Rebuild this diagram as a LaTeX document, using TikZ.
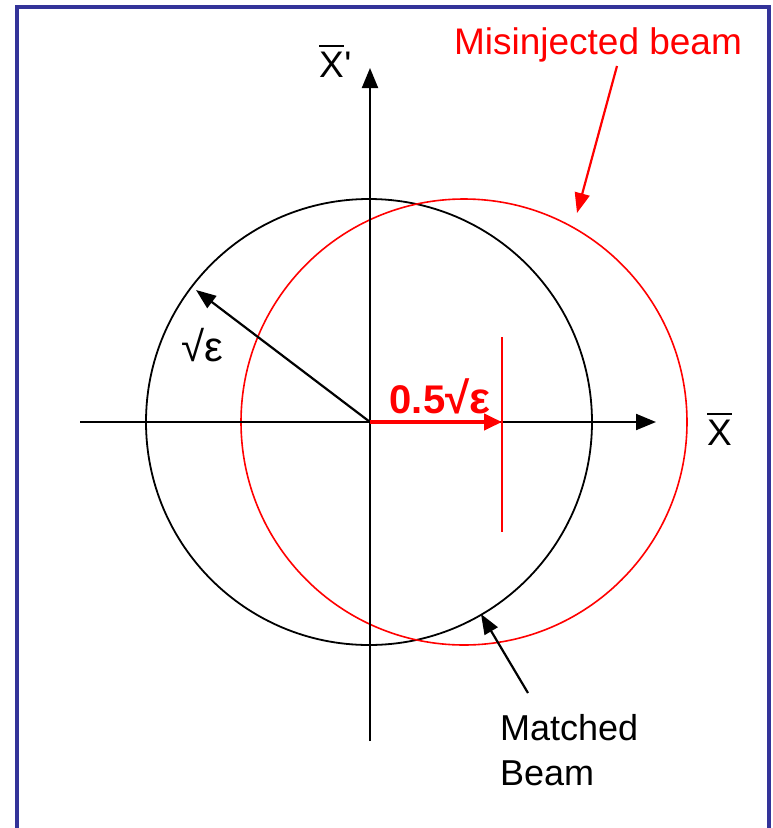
\documentclass[tikz,border=0pt]{standalone}
\usepackage{fontspec}
\setmainfont{Liberation Sans}
\usetikzlibrary{arrows.meta}
\definecolor{framecol}{RGB}{51,51,153}
\definecolor{redc}{RGB}{255,0,0}
\begin{document}
\begin{tikzpicture}[x=1pt,y=-1pt,
  axis/.style={line width=2pt,-{Triangle[length=20pt,width=16pt]}},
  lbl/.style={inner sep=0pt,font=\fontsize{37}{42}\selectfont},
  bar/.style={line width=2.2pt},
  pointer/.style={line width=2.2pt,-{Triangle[length=20pt,width=15pt]}}]
\useasboundingbox (0,0) rectangle (773,828);
% frame
\draw[framecol,line width=4pt] (17,828) -- (17,7) -- (769,7) -- (769,828);
% circles
\draw[line width=1.8pt] (369,422) circle[radius=223];
\draw[redc,line width=1.6pt] (464,422) circle[radius=223];
% axes
\coordinate (o) at (370,422);
\coordinate (xl) at (80,422);
\coordinate (xr) at (656,422);
\coordinate (yb) at (370,741);
\coordinate (yt) at (370,68);
\draw[axis] (xl) -- (xr);
\draw[axis] (yb) -- (yt);
\node[lbl,anchor=south west] (xlab) at (707,446) {X};
\draw[bar] ([yshift=6pt]xlab.north west) -- ([yshift=6pt]xlab.north east);
\node[lbl,anchor=south west] (ylab) at (319,78) {X};
\node[lbl,anchor=south west] (yprime) at (ylab.south east) {\textquotesingle};
\draw[bar] ([yshift=6pt]ylab.north west) -- ([yshift=6pt]ylab.north east);
% radius arrow
\coordinate (rt) at (196,290);
\draw[pointer] (o) -- (rt);
\node[lbl,font=\fontsize{42}{42}\selectfont] (eps) at (202,345) {√ε};
% offset
\coordinate (off) at (502,422);
\coordinate (vt) at (502,337);
\coordinate (vb) at (502,532);
\draw[redc,line width=1.6pt] (vt) -- (vb);
\draw[redc,line width=4pt,-{Triangle[length=18pt,width=16pt]}] (o) -- (off);
\node[lbl,redc,font=\fontsize{40}{40}\selectfont\bfseries] (half) at (440,396) {0.5{\fontsize{44}{44}\selectfont √ε}};
% misinjected label
\node[lbl,redc] (mis) at (598,45) {Misinjected beam};
\coordinate (mt) at (577,213);
\draw[redc,line width=2.2pt,-{Triangle[length=20pt,width=15pt]}] (617,66) -- (mt);
% matched label
\node[lbl,align=left,anchor=north west,font=\fontsize{36}{45}\selectfont] (mat) at (500,714) {Matched\\Beam};
\coordinate (mb) at (481,614);
\draw[pointer] (528,693) -- (mb);
\end{tikzpicture}
\end{document}
